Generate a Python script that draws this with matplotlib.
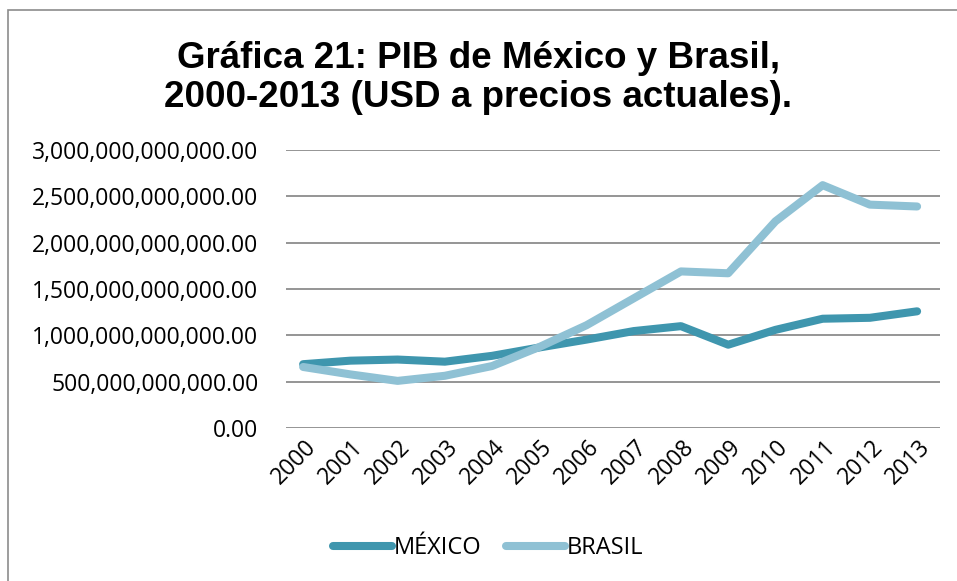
import matplotlib
matplotlib.use('Agg')
import matplotlib.pyplot as plt
import matplotlib.transforms as mtransforms
from matplotlib.patches import Rectangle
from matplotlib.ticker import FuncFormatter

# Data ===
years = ['2000', '2001', '2002', '2003', '2004', '2005', '2006',
         '2007', '2008', '2009', '2010', '2011', '2012', '2013']
mexico = [0.69e12, 0.728e12, 0.74e12, 0.717e12, 0.78e12, 0.87e12, 0.955e12,
          1.047e12, 1.10e12, 0.90e12, 1.06e12, 1.18e12, 1.19e12, 1.26e12]
brasil = [0.66e12, 0.58e12, 0.51e12, 0.565e12, 0.67e12, 0.875e12, 1.11e12,
          1.40e12, 1.69e12, 1.67e12, 2.23e12, 2.62e12, 2.41e12, 2.39e12]
yticks = [0, 0.5e12, 1.0e12, 1.5e12, 2.0e12, 2.5e12, 3.0e12]
title_lines = ['Gráfica 21: PIB de México y Brasil,',
               '2000-2013 (USD a precios actuales).']

c_mex = '#3F96AE'
c_bra = '#8FC1D4'
tick_font = 'Open Sans'

fig = plt.figure(figsize=(9.57, 5.81), dpi=100)
ax = fig.add_axes([0.299, 0.263, 0.683, 0.479])

x = range(len(years))
ax.plot(x, mexico, color=c_mex, lw=5.8, solid_capstyle='round', solid_joinstyle='round', label='MÉXICO', zorder=3)
ax.plot(x, brasil, color=c_bra, lw=5.8, solid_capstyle='round', solid_joinstyle='round', label='BRASIL', zorder=4)

ax.set_ylim(0, 3.0e12)
ax.set_xlim(-0.36, 13.48)
ax.set_yticks(yticks)
ax.yaxis.set_major_formatter(FuncFormatter(lambda v, p: f'{v:,.2f}'))
ax.set_xticks(list(x))
ax.set_xticklabels(years, rotation=45, ha='right', rotation_mode='anchor')
ax.grid(axis='y', color='#8c8c8c', lw=1.3)
ax.set_axisbelow(True)
for s in ax.spines.values():
    s.set_visible(False)
ax.tick_params(axis='y', length=0, labelsize=16.5, pad=20)
ax.tick_params(axis='x', length=0, labelsize=16.5, pad=5)
shift = mtransforms.ScaledTranslation(1 / 100, 0, fig.dpi_scale_trans)
for lab in ax.get_xticklabels():
    lab.set_fontfamily(tick_font)
    lab.set_transform(lab.get_transform() + shift)
for lab in ax.get_yticklabels():
    lab.set_fontfamily(tick_font)

fig.text(0.5, 1 - 68 / 581, title_lines[0], ha='center', va='baseline',
         fontsize=26.5, fontweight='bold', family='Liberation Sans')
fig.text(0.5, 1 - 107 / 581, title_lines[1], ha='center', va='baseline',
         fontsize=26.5, fontweight='bold', family='Liberation Sans')

leg = fig.legend(loc='center', bbox_to_anchor=(0.51, 0.056), ncol=2, frameon=False,
                 prop={'family': tick_font, 'size': 17}, handlelength=2.5,
                 handletextpad=0.1, columnspacing=1.0)

fig.add_artist(Rectangle((8 / 957, -0.05), 1.0, 1 - 10 / 581 + 0.05, transform=fig.transFigure,
                         fill=False, edgecolor='#8c8c8c', lw=1.2))

fig.savefig('out.png', dpi=100)
